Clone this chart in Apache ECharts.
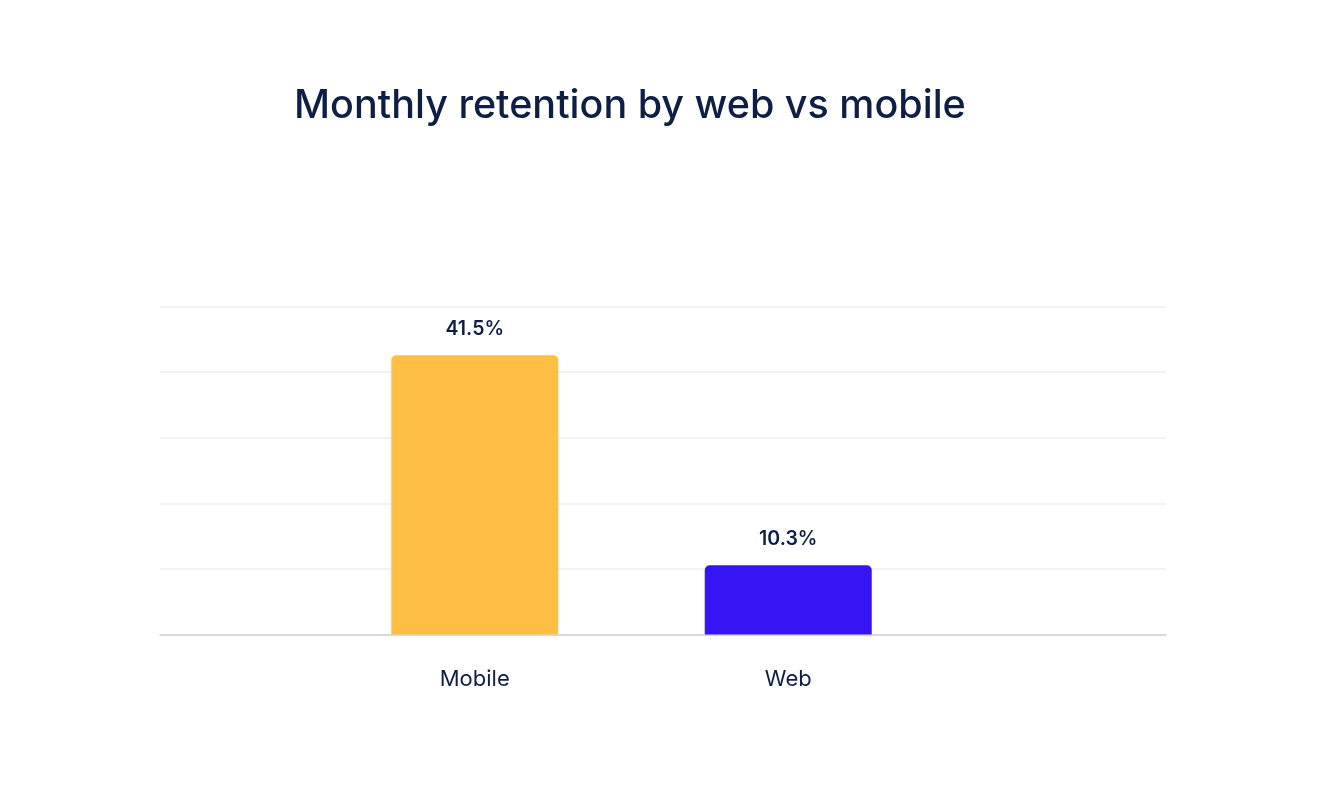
<!DOCTYPE html>
<html>
<head>
<meta charset="utf-8">
<script src="https://cdn.jsdelivr.net/npm/echarts@6/dist/echarts.min.js"></script>
<style>
  html, body { margin: 0; padding: 0; background: #fff; }
  #chart { width: 1320px; height: 791px; }
</style>
</head>
<body>
<div id="chart"></div>
<script>
// data
const categories = ['Mobile', 'Web']
const retention = [41.5, 10.3]
const barColors = ['#FFBF45', '#3615F5']

const textColor = '#0E1E45'
const axisMax = 48.75   // matches bar heights in the picture
const axisStep = 9.75

const chart = echarts.init(document.getElementById('chart'))

let option = {
    backgroundColor: '#fff',
    title: {
        text: 'Monthly retention by web vs mobile',
        left: 289,
        top: 81,
        textStyle: {
            fontFamily: 'Inter',
            fontSize: 39.5,
            fontWeight: 500,
            color: textColor
        }
    },
    grid: [
        // background grid with the full width split lines
        { left: 160, right: 154, top: 306.5, bottom: 791 - 634.5 },
        // bars
        { left: 318, width: 627, top: 306.5, bottom: 791 - 634.5 }
    ],
    xAxis: [{
        gridIndex: 0,
        type: 'category',
        data: [''],
        axisLine: { show: true, lineStyle: { color: '#d2d2d4', width: 1.5 } },
        axisTick: { show: false },
        axisLabel: { show: false }
    }, {
        gridIndex: 1,
        type: 'category',
        data: categories,
        axisLine: { show: false },
        axisTick: { show: false },
        axisLabel: {
            margin: 34,
            fontFamily: 'Inter',
            fontSize: 22,
            color: textColor
        }
    }],
    yAxis: [{
        gridIndex: 0,
        type: 'value',
        min: 0,
        max: axisMax,
        interval: axisStep,
        axisLabel: { show: false },
        axisLine: { show: false },
        axisTick: { show: false },
        splitLine: { lineStyle: { color: '#eeeef0', width: 1.5 } }
    }, {
        gridIndex: 1,
        type: 'value',
        min: 0,
        max: axisMax,
        interval: axisStep,
        show: false,
        splitLine: { show: false }
    }],
    series: [{
        type: 'bar',
        xAxisIndex: 1,
        yAxisIndex: 1,
        barWidth: 167,
        data: retention.map((v, i) => ({
            value: v,
            itemStyle: { color: barColors[i], borderRadius: [5, 5, 0, 0] }
        })),
        label: {
            show: true,
            position: 'top',
            distance: 16,
            formatter: p => p.value + '%',
            fontFamily: 'Inter',
            fontSize: 19.5,
            fontWeight: 600,
            color: textColor
        }
    }]
}

chart.setOption(option)
</script>
</body>
</html>
